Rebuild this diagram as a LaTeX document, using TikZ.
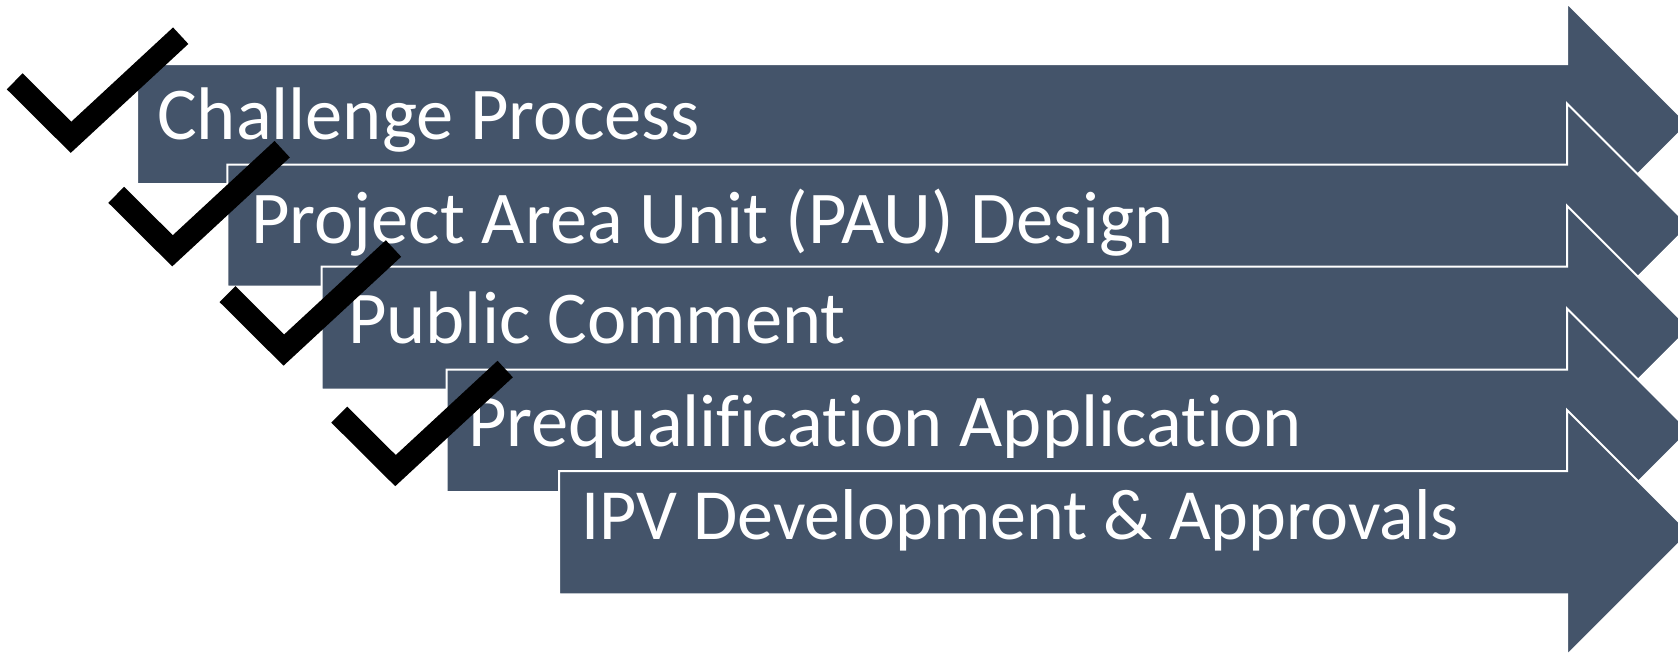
\documentclass[tikz,border=0pt]{standalone}
\usepackage{fontspec}
\setmainfont{Carlito}[Ligatures=NoCommon]
\definecolor{slatefill}{HTML}{44546A}
\newcommand\arrowrow[3]{%
  \path[arrowbody] (#1,#2) -- (1567,#2) -- (1567,#2-61)
    -- ({1567+(#3-#2)/2+61},{(#2+#3)/2}) -- (1567,#3+61)
    -- (1567,#3) -- (#1,#3) -- cycle;}
\begin{document}
\begin{tikzpicture}[x=1pt,y=-1pt,
  arrowbody/.style={fill=slatefill, draw=white, line width=2pt, line join=miter},
  checkmark/.style={draw=black, line width=22.5pt, line join=miter, line cap=butt},
  lbl/.style={anchor=base west, inner sep=0pt, text=white, font=\fontsize{74.5}{80}\selectfont}]
\useasboundingbox (0,0) rectangle (1678,653);
\clip (0,0) rectangle (1678,653);
% arrows
\arrowrow{137}{64}{184}
\node[lbl] (t1) at (157,139) {Challenge Process};
\arrowrow{227.3}{164.5}{286.7}
\node[lbl] (t2) at (251,243) {Project Area Unit (PAU) Design};
\arrowrow{321.7}{266.7}{389.7}
\node[lbl] (t3) at (348,343.5) {Public Comment};
\arrowrow{446.7}{369.5}{492}
\node[lbl] (t4) at (468,446.5) {Prequalification Application};
\arrowrow{559}{471}{594.3}
\node[lbl, font=\fontsize{72}{80}\selectfont] (t5) at (581,539.5) {IPV Development \& Approvals};
% check marks
\foreach \dx/\dy in {0/0, 101.5/113.5, 212.8/212.8, 324.5/333.3}{
  \begin{scope}[shift={(\dx,\dy)}]
    \draw[checkmark] (14.7,81.3) -- (71,137.3) -- (180.7,35.7);
  \end{scope}
}
\end{tikzpicture}
\end{document}
